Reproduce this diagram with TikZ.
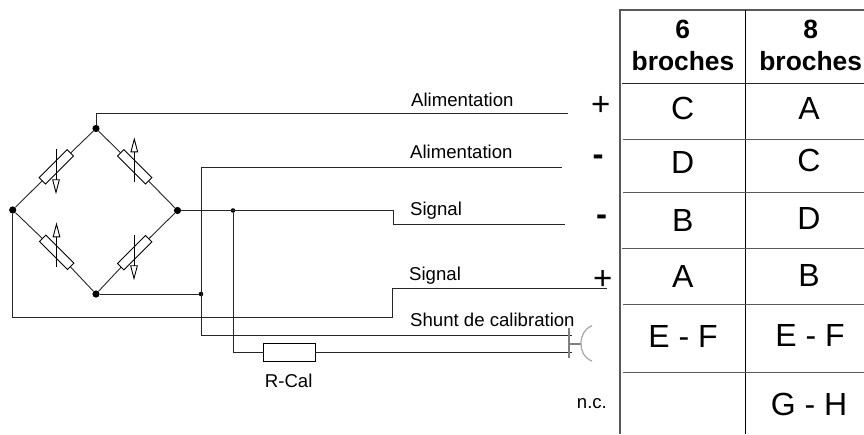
\documentclass[tikz,border=0pt]{standalone}
\usepackage{fontspec}
\setmainfont{Liberation Sans}
\usetikzlibrary{arrows.meta}
\tikzset{wire/.style={line width=0.9pt,black!85}}
\tikzset{rule/.style={line width=1pt,black!65}}
\tikzset{plug/.style={line width=1.7pt,black!50}}
\tikzset{joint/.style={circle,fill=black,inner sep=0pt,minimum size=7.2pt}}
\tikzset{tap/.style={circle,fill=black,inner sep=0pt,minimum size=4.6pt}}
\tikzset{gauge/.style={draw,line width=0.9pt,fill=white,inner sep=0pt,outer sep=0pt,minimum width=39.6pt,minimum height=9pt}}
\tikzset{strain/.style={line width=0.9pt,-{Triangle[open,length=15pt,width=7.6pt]}}}
\tikzset{lab/.style={anchor=base west,inner sep=0pt,font=\fontsize{18.6}{18.6}\selectfont}}
\tikzset{sign/.style={anchor=center,inner sep=0pt,font=\fontsize{33}{33}\selectfont}}
\tikzset{cell/.style={anchor=base,inner sep=0pt,font=\fontsize{32}{32}\selectfont}}
\tikzset{head/.style={anchor=base,inner sep=0pt,font=\fontsize{26.4}{26.4}\selectfont\bfseries}}
\begin{document}
\begin{tikzpicture}[x=1pt,y=-1pt]
      \useasboundingbox (0,0) rectangle (864,434);
      %%%%%%%%%%%%%%%%%%%%%%%%%%%%%%%%%%%%%%%
      \node[joint] (n1) at (96,128.5) {};
      \node[joint] (n2) at (12.7,210) {};
      \node[joint] (n3) at (177.5,210.5) {};
      \node[joint] (n4) at (96,294) {};
      \node[tap] (t1) at (201,294) {};
      \node[tap] (t2) at (233,210.5) {};
      \node[gauge,rotate=45] (g1) at (56.3,166.8) {};
      \node[gauge,rotate=-45] (g2) at (134.7,166.8) {};
      \node[gauge,rotate=-45] (g3) at (56.7,252.3) {};
      \node[gauge,rotate=45] (g4) at (134.7,252.7) {};
      \node[draw,line width=0.9pt,fill=white,inner sep=0pt,outer sep=0pt,minimum width=51.3pt,minimum height=18.4pt] (rcal) at (289.4,352.5) {};
      \draw[wire] (n1)--(g1);
      \draw[wire] (g1)--(n2);
      \draw[wire] (n1)--(g2);
      \draw[wire] (g2)--(n3);
      \draw[wire] (n2)--(g3);
      \draw[wire] (g3)--(n4);
      \draw[wire] (n3)--(g4);
      \draw[wire] (g4)--(n4);
      \draw[strain] (56,149.3)--(56,194.3);
      \draw[strain] (134.3,182.3)--(134.3,137.3);
      \draw[strain] (56.5,267.3)--(56.5,222.3);
      \draw[strain] (134,235.3)--(134,280.3);
      %%%%%%%%%%%%%%%%%%%%%%%%%%%%%%%%%%%%%%%
      \coordinate (a1) at (568,113.5);
      \coordinate (a2) at (562,167.3);
      \coordinate (s1) at (393,224);
      \coordinate (s2) at (565,224);
      \coordinate (s3) at (392.5,288.7);
      \coordinate (s4) at (607,288.7);
      \coordinate (e1) at (572,335.7);
      \coordinate (e2) at (572,352.5);
      \draw[wire] (n1)--(n1 |- a1)--(a1);
      \draw[wire] (n4)--(t1);
      \draw[wire] (a2)--(t1 |- a2)--(t1 |- e1)--(e1);
      \draw[wire] (n3)--(s1 |- n3)--(s1)--(s2);
      \draw[wire] (n2)--(12.7,317.7)--(392.5,317.7)--(s3)--(s4);
      \draw[wire] (t2)--(t2 |- rcal)--(rcal);
      \draw[wire] (rcal)--(e2);
      %%%%%%%%%%%%%%%%%%%%%%%%%%%%%%%%%%%%%%%
      \coordinate (p1) at (569.3,343.7);
      \coordinate (p2) at (581,343.7);
      \draw[plug] (569.3,328)--(569.3,358);
      \draw[plug] (p1)--(p2);
      \draw[plug,line width=1.2pt,black!35] (592,325.7) .. controls (584,329) and (581,336) .. (p2) .. controls (581,351) and (584,358) .. (592,361);
      %%%%%%%%%%%%%%%%%%%%%%%%%%%%%%%%%%%%%%%
      \node[lab] (l1) at (411,106) {Alimentation};
      \node[lab] (l2) at (410,158.3) {Alimentation};
      \node[lab] (l3) at (410,215) {Signal};
      \node[lab] (l4) at (409,280.5) {Signal};
      \node[lab] (l5) at (410,326.7) {Shunt de calibration};
      \node[lab] (l6) at (576.7,408.3) {n.c.};
      \node[lab,anchor=base] (l7) at (288.7,387.5) {R-Cal};
      \node[sign] (m1) at (600.7,105.5) {+};
      \node[sign] (m2) at (598,160.7) {\bfseries -};
      \node[sign] (m3) at (601.7,220) {\bfseries -};
      \node[sign] (m4) at (602.7,280) {+};
      %%%%%%%%%%%%%%%%%%%%%%%%%%%%%%%%%%%%%%%
      \draw[rule,line width=1.3pt] (620,434)--(620,10)--(864,10);
      \draw[wire,black] (745.3,10)--(745.3,434);
      \draw[wire] (622,83)--(864,83);
      \draw[rule] (623,139)--(864,139);
      \draw[rule] (623,192.7)--(864,192.7);
      \draw[rule] (622,248)--(864,248);
      \draw[rule] (623,304)--(864,304);
      \draw[rule] (623,372)--(864,372);
      %%%%%%%%%%%%%%%%%%%%%%%%%%%%%%%%%%%%%%%
      \node[head] (h1) at (682.7,38.5) {6};
      \node[head] (h2) at (683,70) {broches};
      \node[head] (h3) at (810.7,38.5) {8};
      \node[head] (h4) at (810.7,70) {broches};
      \node[cell] (b1) at (682.7,119.3) {C};
      \node[cell] (b2) at (682.7,173.2) {D};
      \node[cell] (b3) at (682.7,231) {B};
      \node[cell] (b4) at (682.7,287.8) {A};
      \node[cell] (b5) at (683,347.8) {E - F};
      \node[cell] (c1) at (809,119.3) {A};
      \node[cell] (c2) at (809,171.8) {C};
      \node[cell] (c3) at (809,229.4) {D};
      \node[cell] (c4) at (809,286.2) {B};
      \node[cell] (c5) at (810,346.2) {E - F};
      \node[cell] (c6) at (809,415) {G - H};
      \end{tikzpicture}
\end{document}
